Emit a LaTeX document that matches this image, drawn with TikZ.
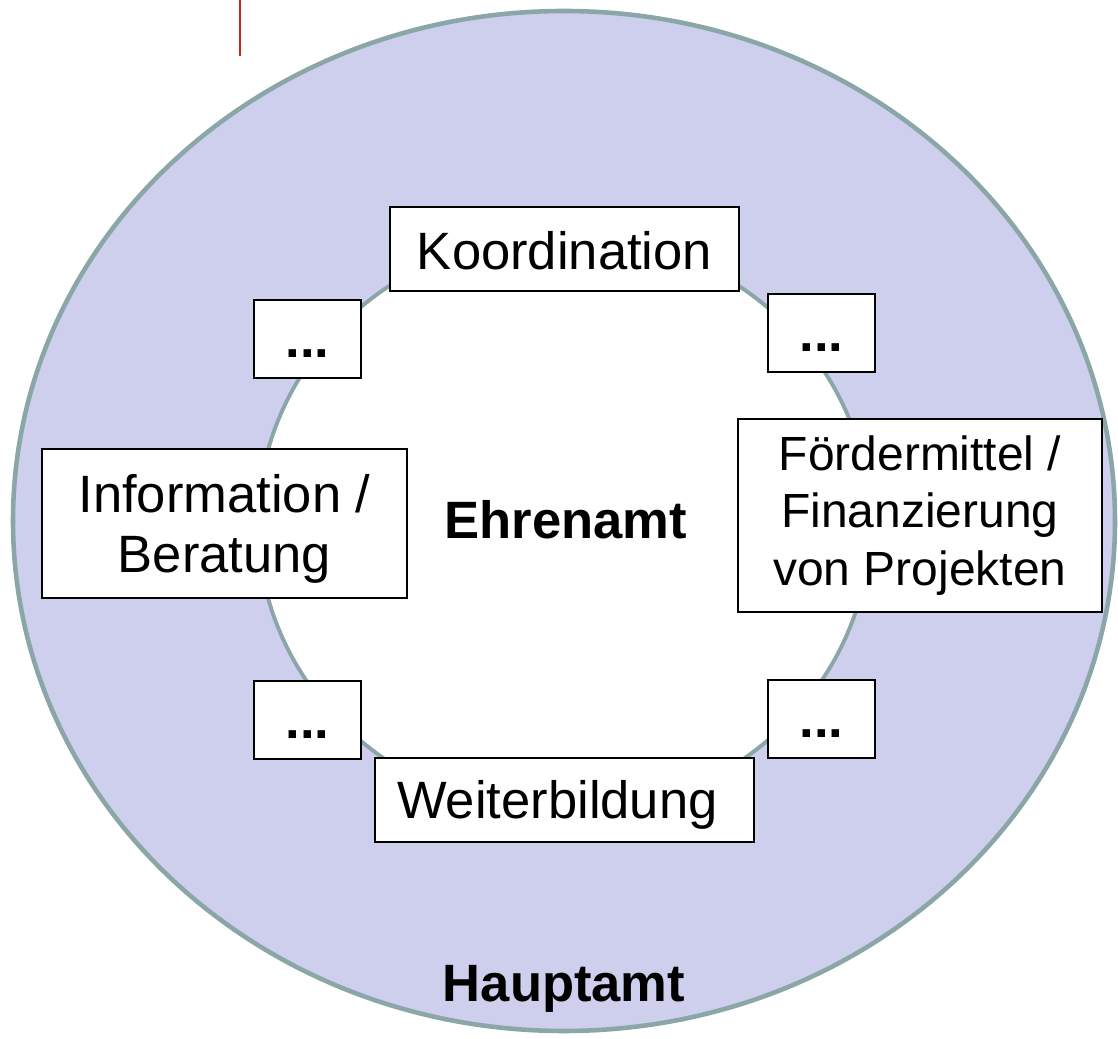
\documentclass[tikz,border=0pt]{standalone}
\usepackage{fontspec}
\setmainfont{Liberation Sans}
\usepackage{tikz}
\usetikzlibrary{calc}

\definecolor{hauptfill}{RGB}{205,207,236}
\definecolor{ringline}{RGB}{139,166,166}
\definecolor{markred}{RGB}{204,34,34}

\begin{document}
\begin{tikzpicture}[
    feld/.style={draw=black, fill=white, line width=1.1pt, inner sep=0pt,
      font=\fontsize{29.9}{34.1}\selectfont},
    punkte/.style={feld, minimum width=2.14cm, minimum height=1.56cm,
      font=\fontsize{29.9}{34.1}\selectfont\bfseries, text height=27pt, text depth=6pt},
    titel/.style={anchor=base, font=\fontsize{29.9}{34.1}\selectfont\bfseries}]
  \useasboundingbox (0,0) rectangle (22.36,20.78);
  \draw[markred, line width=0.9pt] (4.8,20.78) -- (4.8,19.66);
  % rings
  \filldraw[fill=hauptfill, draw=ringline, line width=2.6pt] (11.28,10.36) ellipse (11.02 and 10.2);
  \filldraw[fill=white, draw=ringline, line width=2.2pt] (11.28,10.30) ellipse (6.12 and 5.80);
  % boxes
  \node[feld, minimum width=6.98cm, minimum height=1.68cm, text height=28pt, text depth=4.5pt] (koord) at (11.29,15.80) {Koordination};
  \node[punkte] (p1) at (6.15,14.0) {...};
  \node[punkte] (p2) at (16.43,14.12) {...};
  \node[feld, align=center, minimum width=7.30cm, minimum height=2.98cm, text depth=0pt] (info) at (4.49,10.31) {Information /\\Beratung};
  \node[feld, align=center, minimum width=7.28cm, minimum height=3.86cm, font=\fontsize{27.3}{32.6}\selectfont] (foerder) at (18.40,10.47) {Fördermittel /\\Finanzierung\\von Projekten};
  \node[punkte] (p3) at (6.15,6.38) {...};
  \node[punkte] (p4) at (16.43,6.40) {...};
  \node[feld, minimum width=7.58cm, minimum height=1.68cm, text height=27pt, text depth=6pt] (weiter) at (11.29,4.78) {Weiterbildung\kern 8pt};
  % labels
  \node[titel] (ehren) at (11.32,10.0) {Ehrenamt};
  \node[titel] (haupt) at (11.28,0.74) {Hauptamt};
\end{tikzpicture}
\end{document}
